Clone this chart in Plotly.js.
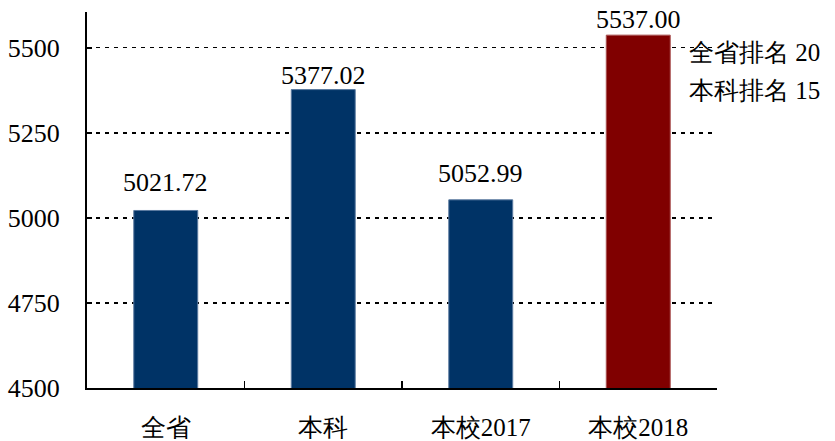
<!DOCTYPE html>
<html><head><meta charset="utf-8">
<script src="https://cdn.plot.ly/plotly-3.0.1.min.js"></script>
<style>html,body{margin:0;padding:0;background:#fff}#c{width:835px;height:441px}</style>
</head><body><div id="c"></div>
<script>
const categories = ['全省', '本科', '本校2017', '本校2018'];
const values = [5021.72, 5377.02, 5052.99, 5537.00];
const valueLabels = ['5021.72', '5377.02', '5052.99', '5537.00'];
const barColors = ['#003366', '#003366', '#003366', '#800000'];
const edgeColors = ['#5a7aa0', '#5a7aa0', '#5a7aa0', '#a85050'];
const labelShift = [28, 14, 26, 16];
const yTicks = [4500, 4750, 5000, 5250, 5500];
const noteLines = ['全省排名 20', '本科排名 15'];

const serif = '"Liberation Serif", "Times New Roman", "DejaVu Serif", serif';
const annotations = categories.map((c, i) => ({
  x: c, y: values[i], text: valueLabels[i], showarrow: false,
  xref: 'x', yref: 'y', yanchor: 'middle', yshift: labelShift[i],
  font: {family: serif, size: 26, color: '#000'}
}));
noteLines.forEach((t, i) => annotations.push({
  xref: 'paper', yref: 'paper', x: 0.952, y: 0.891 - i * 0.101, xanchor: 'left', yanchor: 'middle',
  text: t, showarrow: false,
  font: {family: serif, size: 25, color: '#000'}
}));

Plotly.newPlot('c', [{
  type: 'bar', x: categories, y: values,
  marker: {color: barColors, line: {color: edgeColors, width: 1}},
  hoverinfo: 'none'
}], {
  width: 835, height: 441,
  margin: {l: 87, r: 118, t: 12, b: 53},
  paper_bgcolor: '#fff', plot_bgcolor: '#fff',
  bargap: 0.594,
  showlegend: false,
  font: {family: serif, color: '#000'},
  xaxis: {
    showline: true, linecolor: '#000', linewidth: 2,
    ticks: 'inside', tickson: 'boundaries', ticklen: 7, tickwidth: 1.5, tickcolor: '#000',
    showgrid: false, tickfont: {family: serif, size: 25, color: '#000'}, ticklabelstandoff: 16
  },
  yaxis: {
    range: [4500, 5605], tickvals: yTicks, ticktext: yTicks.map(String),
    showline: true, linecolor: '#000', linewidth: 2,
    ticks: 'inside', ticklen: 5, tickwidth: 2, tickcolor: '#000',
    showgrid: true, gridcolor: '#000', gridwidth: 1.5, griddash: '4px,5px',
    zeroline: false, tickfont: {family: serif, size: 26, color: '#000'}, ticklabelstandoff: 20
  },
  annotations: annotations
}, {staticPlot: true});
</script></body></html>
